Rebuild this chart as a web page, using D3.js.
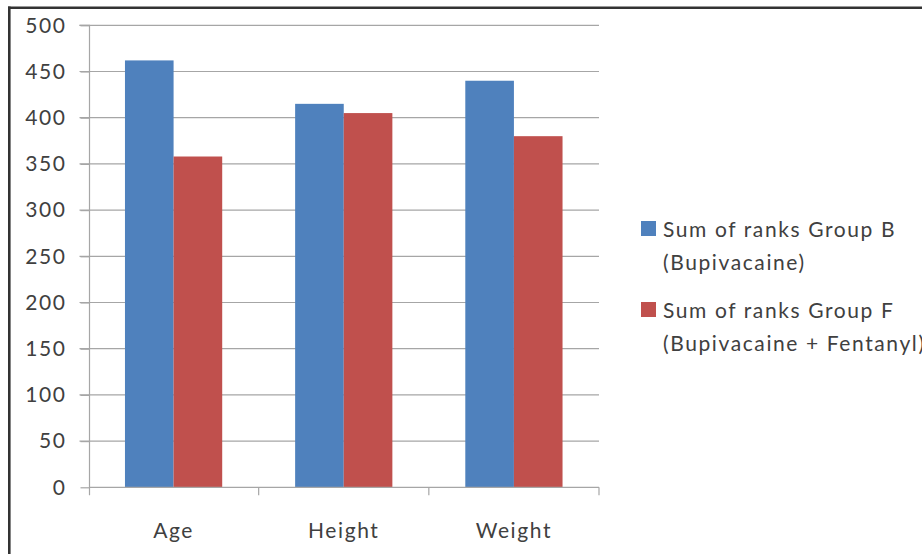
<!DOCTYPE html>
<html><head><meta charset="utf-8">
<script src="https://cdn.jsdelivr.net/npm/d3@7"></script>
<style>body{margin:0;background:#fff;}svg{display:block;}</style>
</head><body>
<svg id="c" width="922" height="554"></svg>
<script>
const categories = ["Age", "Height", "Weight"];
const seriesNames = ["Sum of ranks Group B|(Bupivacaine)", "Sum of ranks Group F|(Bupivacaine + Fentanyl)"];
const groupB = [462, 415, 440];
const groupF = [358, 405, 380];
const yTicks = [0, 50, 100, 150, 200, 250, 300, 350, 400, 450, 500];
const colors = ["#4F81BD", "#C0504D"];

const svg = d3.select("#c");
const font = "Lato, 'Open Sans', sans-serif";
const fs = 21, ls = 1.6;
const m = {l: 88.5, r: 599, t: 25.3, b: 487.3};

// frame
svg.append("line").attr("x1", 8).attr("x2", 922).attr("y1", 7.7).attr("y2", 7.7).attr("stroke", "#333").attr("stroke-width", 2.6);
svg.append("line").attr("x1", 9.3).attr("x2", 9.3).attr("y1", 6.5).attr("y2", 554).attr("stroke", "#333").attr("stroke-width", 2.6);

const x = d3.scaleBand().domain(categories).range([m.l, m.r]).paddingInner(0).paddingOuter(0);
const y = d3.scaleLinear().domain([0, 500]).range([m.b, m.t]);
const bw = x.bandwidth() / 3.5;

// gridlines
svg.append("g").selectAll("line").data(yTicks.filter(d => d > 0)).join("line")
  .attr("x1", m.l - 9).attr("x2", m.r).attr("y1", d => y(d)).attr("y2", d => y(d))
  .attr("stroke", "#a6a6a6").attr("stroke-width", 1.2);

// bars
const series = [groupB, groupF];
series.forEach((vals, si) => {
  svg.append("g").selectAll("rect").data(vals).join("rect")
    .attr("x", (d, i) => x(categories[i]) + 0.75 * bw + si * bw)
    .attr("width", bw)
    .attr("y", d => y(d))
    .attr("height", d => y(0) - y(d))
    .attr("fill", colors[si]);
});

// y axis
const yAxis = d3.axisLeft(y).tickValues(yTicks).tickSize(9).tickPadding(14);
const ga = svg.append("g").attr("transform", `translate(${m.l + 1},0)`).call(yAxis);
ga.select(".domain").attr("stroke", "#a6a6a6").attr("stroke-width", 1.2).attr("d", `M-10,${m.t}H0V${m.b + 8}`);
ga.selectAll(".tick line").attr("stroke", "#a6a6a6").attr("stroke-width", 1.2);
ga.selectAll("text").attr("font-family", font).attr("font-size", fs).attr("letter-spacing", ls).attr("fill", "#404040");

// x axis
const xAxis = d3.axisBottom(x).tickSize(0).tickPadding(36);
const gx = svg.append("g").attr("transform", `translate(0,${m.b})`).call(xAxis);
gx.select(".domain").attr("stroke", "#a6a6a6").attr("stroke-width", 1.2).attr("d", `M${m.l + 1},0H${m.r}`);
gx.selectAll("text").attr("font-family", font).attr("font-size", fs).attr("letter-spacing", ls).attr("fill", "#404040");
// category boundary ticks
const bounds = categories.map(c => x(c)).concat([m.r]);
svg.append("g").selectAll("line").data(bounds.slice(1)).join("line")
  .attr("x1", d => d).attr("x2", d => d).attr("y1", m.b).attr("y2", m.b + 8)
  .attr("stroke", "#a6a6a6").attr("stroke-width", 1.2);

// legend
const lg = svg.append("g");
seriesNames.forEach((name, i) => {
  const y0 = 221 + i * 81;
  lg.append("rect").attr("x", 641).attr("y", y0).attr("width", 15).attr("height", 15).attr("fill", colors[i]);
  const lines = name.split("|");
  lines.forEach((t, j) => {
    lg.append("text").attr("x", 663).attr("y", y0 + 15.5 + j * 33).text(t)
      .attr("font-family", font).attr("font-size", fs).attr("letter-spacing", ls).attr("fill", "#404040");
  });
});
</script>
</body></html>
